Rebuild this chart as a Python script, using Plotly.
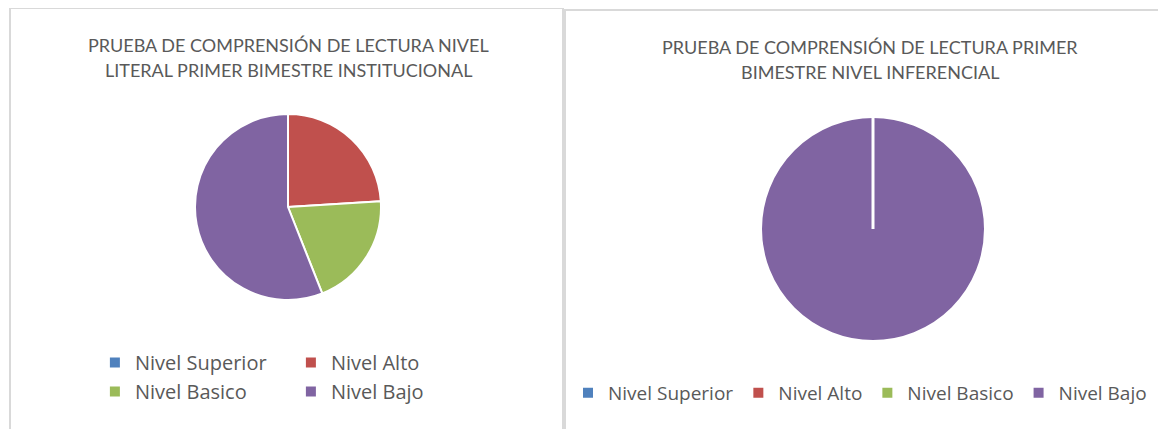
import plotly.graph_objects as go

niveles = ["Nivel Superior", "Nivel Alto", "Nivel Basico", "Nivel Bajo"]
literal_vals = [0, 24, 20, 56]
inferencial_vals = [0, 0, 0, 100]
colores = ["#4f81bd", "#c0504d", "#9bbb59", "#8064a2"]

titulo_literal = ["PRUEBA DE COMPRENSIÓN DE LECTURA NIVEL",
                  "LITERAL PRIMER BIMESTRE INSTITUCIONAL"]
titulo_inferencial = ["PRUEBA DE COMPRENSIÓN DE LECTURA PRIMER",
                      "BIMESTRE NIVEL INFERENCIAL"]

# the page body has an 8px margin, so the figure starts at (8, 8) on screen
OFF = 8
W, H = 1166 - OFF, 429 - OFF
ML = 87  # left margin, the left legend sits right at the plot area edge
GW = W - ML


def px(x):
    # screen x -> paper x
    return (x - OFF - ML) / GW


def py(y):
    # screen y -> paper y
    return 1 - (y - OFF) / H


lit_dom = dict(x=[px(195), px(381)], y=[py(300), py(114)])
inf_dom = dict(x=[px(761), px(985)], y=[py(341), py(117)])

# separate legendgroups, otherwise plotly dedups the slice labels across both legends
pie_lit = go.Pie(labels=niveles, values=literal_vals, sort=False,
                 direction="clockwise", rotation=0, domain=lit_dom,
                 marker=dict(colors=colores, line=dict(color="white", width=2)),
                 textinfo="none", hoverinfo="label+percent",
                 legend="legend", legendgroup="literal")
pie_inf = go.Pie(labels=niveles, values=inferencial_vals, sort=False,
                 direction="clockwise", rotation=0, domain=inf_dom,
                 marker=dict(colors=colores, line=dict(color="white", width=2)),
                 textinfo="none", hoverinfo="label+percent",
                 legend="legend2", legendgroup="inferencial")

fig = go.Figure(data=[pie_lit, pie_inf])

title_font = dict(family="Lato", size=18, color="#595959")
annots = []
for i, line in enumerate(titulo_literal):
    annots.append(dict(text=line, x=px(288), y=py(45 + 25 * i), xref="paper", yref="paper",
                       showarrow=False, font=title_font, xanchor="center", yanchor="middle"))
for i, line in enumerate(titulo_inferencial):
    annots.append(dict(text=line, x=px(870), y=py(47 + 25 * i), xref="paper", yref="paper",
                       showarrow=False, font=title_font, xanchor="center", yanchor="middle"))

# panel borders + the white radial seam of the full slice
cx = (inf_dom["x"][0] + inf_dom["x"][1]) / 2
cy = (inf_dom["y"][0] + inf_dom["y"][1]) / 2
shapes = [
    dict(type="rect", xref="paper", yref="paper", x0=px(10), x1=px(563), y0=py(440), y1=py(8),
         line=dict(color="#d9d9d9", width=2)),
    dict(type="rect", xref="paper", yref="paper", x0=px(565), x1=px(1180), y0=py(440), y1=py(10),
         line=dict(color="#d9d9d9", width=2)),
    dict(type="line", xref="paper", yref="paper", x0=cx, x1=cx, y0=cy, y1=inf_dom["y"][1],
         line=dict(color="white", width=3), layer="above"),
]

fig.update_layout(
    width=W, height=H,
    margin=dict(l=ML, r=0, t=0, b=0, autoexpand=False),
    paper_bgcolor="white", plot_bgcolor="white",
    annotations=annots, shapes=shapes,
    legend=dict(orientation="h", traceorder="normal",
                x=-0.0001, xanchor="left", y=py(377), yanchor="middle",
                font=dict(family="Open Sans", size=20, color="#595959"),
                entrywidth=151, entrywidthmode="pixels", bgcolor="rgba(0,0,0,0)"),
    legend2=dict(orientation="h", traceorder="normal",
                 x=px(1152), xanchor="right", y=py(393), yanchor="middle",
                 font=dict(family="Open Sans", size=19, color="#595959"),
                 bgcolor="rgba(0,0,0,0)"),
)

fig.write_html("out.html")
